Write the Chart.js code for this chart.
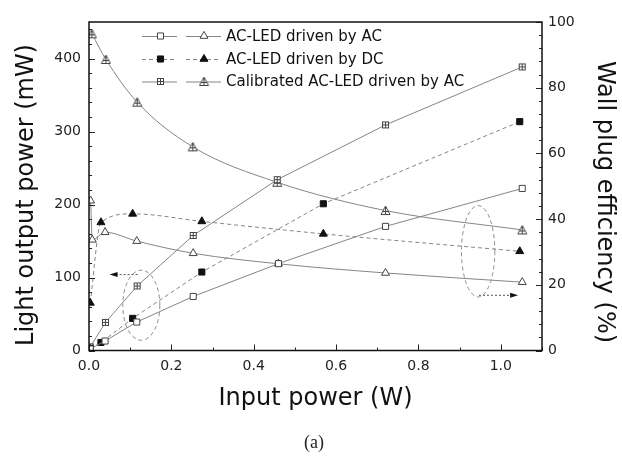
<!DOCTYPE html>
<html>
<head>
<meta charset="utf-8">
<script src="https://cdn.jsdelivr.net/npm/chart.js@4.4.1/dist/chart.umd.min.js"></script>
<style>
  html, body { margin: 0; padding: 0; background: #fff; }
  #wrap { position: relative; width: 622px; height: 456px; }
  #caption { position: absolute; left: 0; width: 628px; top: 432px; text-align: center;
             font: 18px "Liberation Serif", serif; color: #222; }
</style>
</head>
<body>
<div id="wrap">
  <canvas id="chart" width="622" height="456"></canvas>
  <div id="caption">(a)</div>
</div>
<script>
// input power (W) and readings per series
const acInput = [0.003, 0.039, 0.116, 0.253, 0.46, 0.72, 1.052];
const acLight = [2, 13, 39, 74, 119, 170, 222];
const acEffInput = [0.004, 0.008, 0.039, 0.116, 0.253, 0.46, 0.72, 1.052];
const acEff = [45.6, 33.7, 36, 33.3, 29.6, 26.4, 23.6, 20.8];

const dcInput = [0.003, 0.029, 0.106, 0.274, 0.569, 1.046];
const dcLight = [3, 11, 44, 107.5, 201, 313.5];
const dcEff = [14.5, 39, 41.6, 39.3, 35.5, 30.2];

const calInput = [0.003, 0.04, 0.117, 0.253, 0.457, 0.72, 1.052];
const calLight = [5, 38.5, 88.4, 157.6, 234, 309, 388.5];
const calEffInput = [0.007, 0.041, 0.117, 0.252, 0.457, 0.72, 1.052];
const calEff = [96.4, 88.6, 75.6, 62, 51.2, 42.6, 36.7];

const xTicks = [0, 0.2, 0.4, 0.6, 0.8, 1.0];
const yTicks = [0, 100, 200, 300, 400];
const y2Ticks = [0, 20, 40, 60, 80, 100];

const seriesNames = ['AC-LED driven by AC', 'AC-LED driven by DC', 'Calibrated AC-LED driven by AC'];

const FONT = 'DejaVu Sans';
const LINE = '#858585';
const EDGE = '#444';

function zip(xs, ys) {
  return xs.map((x, i) => ({ x: x, y: ys[i] }));
}

function makeMarker(kind) {
  const c = document.createElement('canvas');
  c.width = 11; c.height = 11;
  const g = c.getContext('2d');
  g.strokeStyle = EDGE;
  g.fillStyle = '#fff';
  g.lineWidth = 1;
  if (kind === 'box') {
    g.fillRect(2.5, 2.5, 6, 6);
    g.strokeRect(2.5, 2.5, 6, 6);
    g.beginPath();
    g.moveTo(2.5, 5.5); g.lineTo(8.5, 5.5);
    g.moveTo(5.5, 2.5); g.lineTo(5.5, 8.5);
    g.stroke();
  } else {
    g.beginPath();
    g.moveTo(5.5, 1); g.lineTo(10, 9.5); g.lineTo(1, 9.5); g.closePath();
    g.fill(); g.stroke();
    g.beginPath();
    g.moveTo(5.5, 1); g.lineTo(5.5, 9.5);
    g.moveTo(3, 6.5); g.lineTo(8, 6.5);
    g.stroke();
  }
  return c;
}

const boxPlus = makeMarker('box');
const triPlus = makeMarker('tri');

function series(data, axis, style, fill, dashed, smooth) {
  return {
    data: data,
    yAxisID: axis,
    borderColor: LINE,
    borderWidth: 1,
    borderDash: dashed ? [4, 3] : [],
    pointStyle: style,
    pointRadius: style === 'rect' ? 4.3 : 4.6,
    pointBackgroundColor: fill,
    pointBorderColor: fill === '#fff' ? EDGE : '#111',
    pointBorderWidth: 1,
    tension: 0,
    cubicInterpolationMode: smooth ? 'monotone' : 'default',
    fill: false
  };
}

const datasets = [
  series(zip(acInput, acLight), 'y', 'rect', '#fff', false, false),
  series(zip(acEffInput, acEff), 'y2', 'triangle', '#fff', false, true),
  series(zip(dcInput, dcLight), 'y', 'rect', '#111', true, false),
  series(zip(dcInput, dcEff), 'y2', 'triangle', '#111', true, true),
  series(zip(calInput, calLight), 'y', boxPlus, '#fff', false, false),
  series(zip(calEffInput, calEff), 'y2', triPlus, '#fff', false, true)
];

// inward ticks and the plot frame
const frameTicks = {
  id: 'frameTicks',
  afterDraw(chart) {
    const { ctx, chartArea: a, scales } = chart;
    ctx.save();
    ctx.strokeStyle = '#222';
    ctx.lineWidth = 1;
    const seg = (x1, y1, x2, y2) => { ctx.beginPath(); ctx.moveTo(x1, y1); ctx.lineTo(x2, y2); ctx.stroke(); };
    for (let v = 0; v <= 1.1001; v += 0.1) {
      const p = Math.round(scales.x.getPixelForValue(v)) + 0.5;
      const major = Math.abs(v / 0.2 - Math.round(v / 0.2)) < 1e-6;
      seg(p, a.bottom, p, a.bottom - (major ? 6 : 3));
    }
    for (let v = 0; v <= 450; v += 20) {
      const p = Math.round(scales.y.getPixelForValue(v)) + 0.5;
      seg(a.left, p, a.left + (v % 100 === 0 ? 6 : 3), p);
    }
    for (let v = 0; v <= 100; v += 4) {
      const p = Math.round(scales.y2.getPixelForValue(v)) + 0.5;
      seg(a.right, p, a.right - (v % 20 === 0 ? 6 : 3), p);
    }
    ctx.lineWidth = 1.5;
    ctx.strokeStyle = '#111';
    ctx.strokeRect(a.left, a.top, a.right - a.left, a.bottom - a.top);

    // y axis titles
    ctx.fillStyle = '#111';
    ctx.font = '24px "' + FONT + '"';
    ctx.textAlign = 'center';
    ctx.textBaseline = 'middle';
    ctx.save();
    ctx.translate(27, 195);
    ctx.rotate(-Math.PI / 2);
    ctx.fillText('Light output power (mW)', 0, 0);
    ctx.restore();
    ctx.save();
    ctx.translate(604, 202);
    ctx.rotate(Math.PI / 2);
    ctx.fillText('Wall plug efficiency (%)', 0, 0);
    ctx.restore();
    ctx.restore();
  }
};

// dashed ellipses with dotted arrows pointing at the axis they refer to
const ellipses = [
  { axis: 'y', cx: 0.127, cy: 62, rx: 0.045, ry: 48, from: [0.118, 104], to: [0.05, 104] },
  { axis: 'y2', cx: 0.945, cy: 30.2, rx: 0.0405, ry: 13.9, from: [0.947, 16.8], to: [1.042, 16.8] }
];

const marks = {
  id: 'marks',
  afterDatasetsDraw(chart) {
    const { ctx, scales } = chart;
    ctx.save();
    ellipses.forEach(e => {
      const ys = scales[e.axis];
      const cx = scales.x.getPixelForValue(e.cx);
      const cy = ys.getPixelForValue(e.cy);
      const rx = scales.x.getPixelForValue(e.cx + e.rx) - cx;
      const ry = cy - ys.getPixelForValue(e.cy + e.ry);
      ctx.strokeStyle = '#8a8a8a';
      ctx.lineWidth = 1;
      ctx.setLineDash([4, 3]);
      ctx.beginPath();
      ctx.ellipse(cx, cy, rx, ry, 0, 0, Math.PI * 2);
      ctx.stroke();
      const x1 = scales.x.getPixelForValue(e.from[0]);
      const y1 = ys.getPixelForValue(e.from[1]);
      const x2 = scales.x.getPixelForValue(e.to[0]);
      const y2 = ys.getPixelForValue(e.to[1]);
      const dir = Math.sign(x2 - x1);
      ctx.setLineDash([2, 2]);
      ctx.strokeStyle = '#555';
      ctx.beginPath();
      ctx.moveTo(x1, y1);
      ctx.lineTo(x2 - dir * 6, y2);
      ctx.stroke();
      ctx.setLineDash([]);
      ctx.fillStyle = '#111';
      ctx.beginPath();
      ctx.moveTo(x2, y2);
      ctx.lineTo(x2 - dir * 8, y2 - 2.5);
      ctx.lineTo(x2 - dir * 8, y2 + 2.5);
      ctx.closePath();
      ctx.fill();
    });

    // legend: two samples per row (light output, efficiency)
    const rowsY = [36, 59, 81.5];
    ctx.font = '15px "' + FONT + '"';
    ctx.textAlign = 'left';
    ctx.textBaseline = 'middle';
    rowsY.forEach((y, i) => {
      const a = chart.data.datasets[i * 2];
      const b = chart.data.datasets[i * 2 + 1];
      ctx.strokeStyle = LINE;
      ctx.lineWidth = 1;
      ctx.setLineDash(a.borderDash);
      ctx.beginPath();
      ctx.moveTo(142, y + 0.5); ctx.lineTo(177, y + 0.5);
      ctx.moveTo(186, y + 0.5); ctx.lineTo(221, y + 0.5);
      ctx.stroke();
      ctx.setLineDash([]);
      [[a, 160.5], [b, 204]].forEach(([ds, x]) => {
        ctx.fillStyle = ds.pointBackgroundColor;
        ctx.strokeStyle = ds.pointBorderColor;
        Chart.helpers.drawPoint(ctx, { pointStyle: ds.pointStyle, radius: ds.pointRadius, rotation: 0, borderWidth: 1 }, x, y);
      });
      ctx.fillStyle = '#111';
      ctx.fillText(seriesNames[i], 226, y + 1);
    });
    ctx.restore();
  }
};

const tickFont = { family: FONT, size: 14 };

new Chart(document.getElementById('chart'), {
  type: 'line',
  data: { datasets: datasets },
  options: {
    responsive: false,
    animation: false,
    devicePixelRatio: 1,
    layout: { padding: { top: 22, left: 0, right: 0, bottom: 0 } },
    plugins: { legend: { display: false }, tooltip: { enabled: false } },
    scales: {
      x: {
        type: 'linear', min: 0, max: 1.1,
        grid: { display: false, drawTicks: false },
        border: { display: false },
        afterBuildTicks: s => { s.ticks = xTicks.map(v => ({ value: v })); },
        afterFit: s => { s.height = 105.5; },
        ticks: { font: tickFont, color: '#222', padding: 7, maxRotation: 0, autoSkip: false,
                 callback: v => Number(v).toFixed(1) },
        title: { display: true, text: 'Input power (W)', color: '#111',
                 font: { family: FONT, size: 24 }, padding: { top: 0, bottom: 43 } }
      },
      y: {
        type: 'linear', position: 'left', min: 0, max: 450,
        grid: { display: false, drawTicks: false },
        border: { display: false },
        afterBuildTicks: s => { s.ticks = yTicks.map(v => ({ value: v })); },
        afterFit: s => { s.width = 89; },
        ticks: { font: tickFont, color: '#222', padding: 8, autoSkip: false }
      },
      y2: {
        type: 'linear', position: 'right', min: 0, max: 100,
        grid: { display: false, drawTicks: false },
        border: { display: false },
        afterBuildTicks: s => { s.ticks = y2Ticks.map(v => ({ value: v })); },
        afterFit: s => { s.width = 80; },
        ticks: { font: tickFont, color: '#222', padding: 6, autoSkip: false }
      }
    }
  },
  plugins: [frameTicks, marks]
});
</script>
</body>
</html>
